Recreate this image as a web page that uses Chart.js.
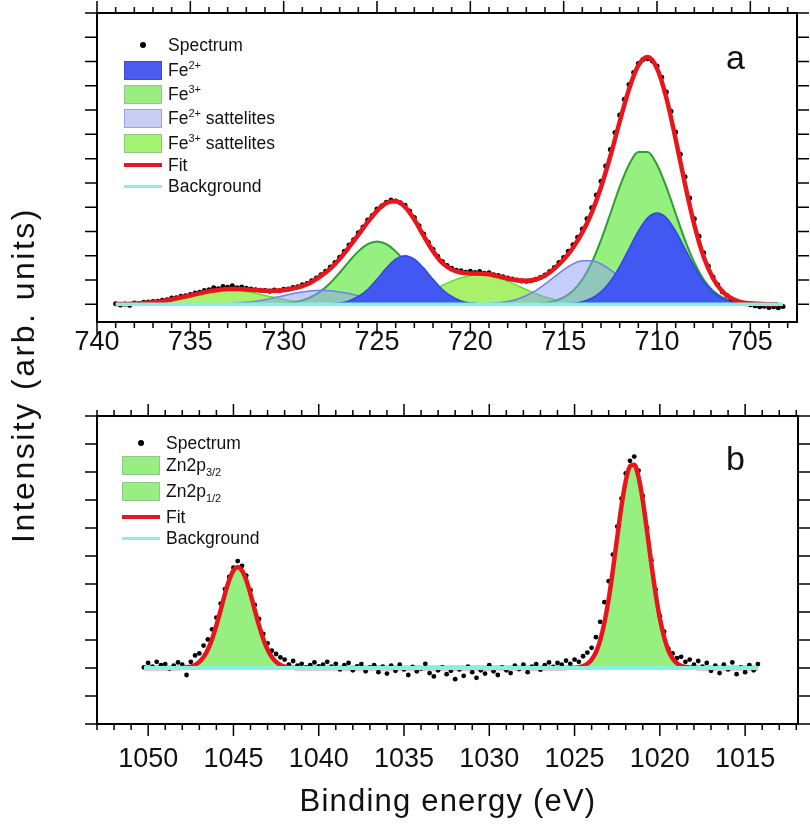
<!DOCTYPE html>
<html>
<head>
<meta charset="utf-8">
<script src="https://cdn.jsdelivr.net/npm/chart.js@4.4.0/dist/chart.umd.min.js"></script>
<style>
  body { margin: 0; background: #fff; font-family: "Liberation Sans", Arial, sans-serif; color: #111; }
  #page { position: relative; width: 810px; height: 824px; overflow: hidden; }
  canvas { position: absolute; left: 0; }
  .legend { position: absolute; font-size: 17.5px; }
  .row { position: absolute; left: 0; height: 22px; line-height: 22px; white-space: nowrap; }
  .txt { position: absolute; left: 44px; top: 0; }
  .box { position: absolute; left: 0; top: 2px; width: 38px; height: 19px; box-sizing: border-box; border: 1px solid #999; }
  .line { position: absolute; left: 0; width: 38px; }
  .dot { position: absolute; left: 16px; top: 8px; width: 6px; height: 6px; border-radius: 50%; background: #000; }
  sup, sub { font-size: 11px; line-height: 0; }
  .panel { position: absolute; font-size: 34px; line-height: 1; }
  .title { position: absolute; white-space: nowrap; line-height: 1; }
</style>
</head>
<body>
<div id="page">
  <canvas id="chartA" width="810" height="372" style="top:0"></canvas>
  <canvas id="chartB" width="810" height="444" style="top:380px"></canvas>

  <div class="legend" style="left:124px;top:0">
    <div class="row" style="top:34px"><span class="dot"></span><span class="txt">Spectrum</span></div>
    <div class="row" style="top:58.5px"><span class="box" style="background:#4A5CF0;border-color:#3A4ACB"></span><span class="txt">Fe<sup>2+</sup></span></div>
    <div class="row" style="top:83px"><span class="box" style="background:#98EE80;border-color:#8CC98A"></span><span class="txt">Fe<sup>3+</sup></span></div>
    <div class="row" style="top:107px"><span class="box" style="background:#C9CEF7;border-color:#9AA3D9"></span><span class="txt">Fe<sup>2+</sup> sattelites</span></div>
    <div class="row" style="top:131.5px"><span class="box" style="background:#A3F272;border-color:#8DCB84"></span><span class="txt">Fe<sup>3+</sup> sattelites</span></div>
    <div class="row" style="top:153.5px"><span class="line" style="top:9px;height:4px;background:#E8161C"></span><span class="txt">Fit</span></div>
    <div class="row" style="top:175px"><span class="line" style="top:10px;height:3px;background:#8AF0E0"></span><span class="txt">Background</span></div>
  </div>

  <div class="legend" style="left:122px;top:0">
    <div class="row" style="top:432px"><span class="dot"></span><span class="txt">Spectrum</span></div>
    <div class="row" style="top:454px"><span class="box" style="background:#98EE80;border-color:#8CC98A"></span><span class="txt">Zn2p<sub>3/2</sub></span></div>
    <div class="row" style="top:480px"><span class="box" style="background:#98EE80;border-color:#8CC98A"></span><span class="txt">Zn2p<sub>1/2</sub></span></div>
    <div class="row" style="top:506px"><span class="line" style="top:9px;height:4px;background:#E8161C"></span><span class="txt">Fit</span></div>
    <div class="row" style="top:527px"><span class="line" style="top:10px;height:3px;background:#8AF0E0"></span><span class="txt">Background</span></div>
  </div>

  <div class="panel" style="left:726px;top:40px">a</div>
  <div class="panel" style="left:726px;top:441px">b</div>

  <div class="title" style="left:23px;top:375px;font-size:32px;letter-spacing:2.5px;transform:translate(-50%,-50%) rotate(-90deg)">Intensity (arb. units)</div>
  <div class="title" style="left:448px;top:800px;font-size:31px;letter-spacing:1.2px;transform:translate(-50%,-50%)">Binding energy (eV)</div>
</div>

<script>
// ---------- panel a : Fe 2p ----------
const xTicksA = [740, 735, 730, 725, 720, 715, 710, 705]
const yTicksA = [0, 1, 2, 3, 4, 5, 6, 7, 8, 9, 10, 11, 12]

// measured spectrum, 0.25 eV steps
const energyA = [
  739.00, 738.75, 738.50, 738.25, 738.00, 737.75, 737.50, 737.25,
  737.00, 736.75, 736.50, 736.25, 736.00, 735.75, 735.50, 735.25,
  735.00, 734.75, 734.50, 734.25, 734.00, 733.75, 733.50, 733.25,
  733.00, 732.75, 732.50, 732.25, 732.00, 731.75, 731.50, 731.25,
  731.00, 730.75, 730.50, 730.25, 730.00, 729.75, 729.50, 729.25,
  729.00, 728.75, 728.50, 728.25, 728.00, 727.75, 727.50, 727.25,
  727.00, 726.75, 726.50, 726.25, 726.00, 725.75, 725.50, 725.25,
  725.00, 724.75, 724.50, 724.25, 724.00, 723.75, 723.50, 723.25,
  723.00, 722.75, 722.50, 722.25, 722.00, 721.75, 721.50, 721.25,
  721.00, 720.75, 720.50, 720.25, 720.00, 719.75, 719.50, 719.25,
  719.00, 718.75, 718.50, 718.25, 718.00, 717.75, 717.50, 717.25,
  717.00, 716.75, 716.50, 716.25, 716.00, 715.75, 715.50, 715.25,
  715.00, 714.75, 714.50, 714.25, 714.00, 713.75, 713.50, 713.25,
  713.00, 712.75, 712.50, 712.25, 712.00, 711.75, 711.50, 711.25,
  711.00, 710.75, 710.50, 710.25, 710.00, 709.75, 709.50, 709.25,
  709.00, 708.75, 708.50, 708.25, 708.00, 707.75, 707.50, 707.25,
  707.00, 706.75, 706.50, 706.25, 706.00, 705.75, 705.50, 705.25,
  705.00, 704.75, 704.50, 704.25, 704.00, 703.75, 703.50, 703.25
]
const spectrumA = [
  0.02, -0.03, 0.01, -0.04, 0.05, 0.02, 0.08, 0.09,
  0.11, 0.12, 0.17, 0.19, 0.26, 0.27, 0.33, 0.35,
  0.40, 0.46, 0.50, 0.57, 0.60, 0.68, 0.64, 0.73,
  0.70, 0.76, 0.68, 0.71, 0.66, 0.63, 0.60, 0.58,
  0.57, 0.54, 0.59, 0.56, 0.62, 0.63, 0.69, 0.72,
  0.80, 0.86, 0.97, 1.08, 1.22, 1.36, 1.54, 1.72,
  1.94, 2.18, 2.44, 2.66, 2.95, 3.18, 3.47, 3.66,
  3.93, 4.05, 4.20, 4.30, 4.26, 4.18, 4.08, 3.84,
  3.58, 3.24, 2.90, 2.56, 2.27, 1.98, 1.76, 1.60,
  1.48, 1.40, 1.38, 1.32, 1.36, 1.31, 1.35, 1.28,
  1.30, 1.22, 1.19, 1.13, 1.08, 1.04, 1.00, 0.96,
  0.95, 0.98, 1.03, 1.10, 1.21, 1.35, 1.52, 1.72,
  1.93, 2.18, 2.45, 2.76, 3.10, 3.52, 3.98, 4.50,
  5.07, 5.70, 6.38, 7.08, 7.80, 8.45, 9.05, 9.55,
  9.92, 10.08, 10.12, 10.02, 9.82, 9.35, 8.75, 7.95,
  7.10, 6.18, 5.25, 4.38, 3.52, 2.80, 2.12, 1.58,
  1.12, 0.80, 0.52, 0.36, 0.22, 0.13, 0.06, 0.02,
  -0.02, -0.06, -0.10, -0.08, -0.13, -0.10, -0.14, -0.09
]

// fitted components, 0.5 eV steps
const gridA = [
  739, 738.5, 738, 737.5, 737, 736.5, 736, 735.5,
  735, 734.5, 734, 733.5, 733, 732.5, 732, 731.5,
  731, 730.5, 730, 729.5, 729, 728.5, 728, 727.5,
  727, 726.5, 726, 725.5, 725, 724.5, 724, 723.5,
  723, 722.5, 722, 721.5, 721, 720.5, 720, 719.5,
  719, 718.5, 718, 717.5, 717, 716.5, 716, 715.5,
  715, 714.5, 714, 713.5, 713, 712.5, 712, 711.5,
  711, 710.5, 710, 709.5, 709, 708.5, 708, 707.5,
  707, 706.5, 706, 705.5, 705, 704.5, 704, 703.5
]
const fe2A = [
  0, 0, 0, 0, 0, 0, 0, 0,
  0, 0, 0, 0, 0, 0, 0, 0,
  0, 0, 0, 0, 0, 0, 0.01, 0.02,
  0.05, 0.14, 0.32, 0.61, 1.03, 1.49, 1.86, 2.00,
  1.86, 1.49, 1.03, 0.61, 0.32, 0.14, 0.05, 0.02,
  0.01, 0, 0, 0, 0, 0, 0, 0.01,
  0.02, 0.04, 0.11, 0.25, 0.51, 0.94, 1.55, 2.28,
  3.01, 3.56, 3.76, 3.56, 3.01, 2.28, 1.55, 0.94,
  0.51, 0.25, 0.11, 0.04, 0.02, 0.01, 0, 0
]
const fe3A = [
  0, 0, 0, 0, 0, 0, 0, 0,
  0, 0, 0, 0, 0, 0, 0, 0,
  0.01, 0.01, 0.03, 0.08, 0.16, 0.31, 0.55, 0.88,
  1.30, 1.76, 2.18, 2.48, 2.59, 2.48, 2.18, 1.76,
  1.30, 0.88, 0.55, 0.31, 0.16, 0.08, 0.03, 0.01,
  0.01, 0, 0, 0, 0.01, 0.02, 0.05, 0.13,
  0.28, 0.56, 1.02, 1.71, 2.64, 3.73, 4.84, 5.75,
  6.27, 6.27, 5.75, 4.84, 3.73, 2.64, 1.71, 1.02,
  0.56, 0.28, 0.13, 0.05, 0.02, 0.01, 0, 0
]
const fe2SatA = [
  0, 0, 0, 0, 0, 0, 0, 0,
  0, 0, 0.01, 0.01, 0.03, 0.05, 0.08, 0.13,
  0.19, 0.27, 0.35, 0.44, 0.51, 0.56, 0.58, 0.56,
  0.51, 0.44, 0.35, 0.27, 0.19, 0.13, 0.08, 0.05,
  0.03, 0.01, 0.01, 0, 0, 0, 0, 0.01,
  0.03, 0.06, 0.11, 0.21, 0.36, 0.56, 0.83, 1.13,
  1.42, 1.66, 1.79, 1.79, 1.66, 1.42, 1.13, 0.83,
  0.56, 0.36, 0.21, 0.11, 0.06, 0.03, 0.01, 0,
  0, 0, 0, 0, 0, 0, 0, 0
]
const fe3SatA = [
  0.01, 0.01, 0.03, 0.05, 0.08, 0.13, 0.20, 0.28,
  0.36, 0.45, 0.53, 0.58, 0.60, 0.58, 0.53, 0.45,
  0.36, 0.28, 0.20, 0.13, 0.08, 0.05, 0.03, 0.01,
  0.01, 0.01, 0.01, 0.02, 0.04, 0.07, 0.12, 0.20,
  0.30, 0.44, 0.60, 0.78, 0.95, 1.09, 1.19, 1.22,
  1.19, 1.09, 0.95, 0.78, 0.60, 0.44, 0.30, 0.20,
  0.12, 0.07, 0.04, 0.02, 0.01, 0.01, 0, 0,
  0, 0, 0, 0, 0, 0, 0, 0,
  0, 0, 0, 0, 0, 0, 0, 0
]
const fitA = [
  0.01, 0.01, 0.03, 0.05, 0.08, 0.13, 0.20, 0.28,
  0.36, 0.45, 0.54, 0.59, 0.63, 0.63, 0.61, 0.58,
  0.56, 0.56, 0.58, 0.65, 0.75, 0.92, 1.17, 1.47,
  1.87, 2.35, 2.86, 3.38, 3.85, 4.17, 4.24, 4.01,
  3.49, 2.82, 2.19, 1.70, 1.43, 1.31, 1.27, 1.26,
  1.24, 1.15, 1.06, 0.99, 0.97, 1.02, 1.18, 1.47,
  1.84, 2.33, 2.96, 3.77, 4.82, 6.10, 7.52, 8.86,
  9.84, 10.19, 9.72, 8.51, 6.80, 4.95, 3.27, 1.96,
  1.07, 0.53, 0.24, 0.09, 0.04, 0.02, 0, 0
]
const bgEnergyA = [739, 703.25]
const bgA = [0, 0]

// ---------- panel b : Zn 2p ----------
const xTicksB = [1050, 1045, 1040, 1035, 1030, 1025, 1020, 1015]
const yTicksB = [-2, -1, 0, 1, 2, 3, 4, 5, 6, 7, 8, 9]

const energyB = [
  1050.25, 1050.00, 1049.75, 1049.50, 1049.25, 1049.00, 1048.75, 1048.50,
  1048.25, 1048.00, 1047.75, 1047.50, 1047.25, 1047.00, 1046.75, 1046.50,
  1046.25, 1046.00, 1045.75, 1045.50, 1045.25, 1045.00, 1044.75, 1044.50,
  1044.25, 1044.00, 1043.75, 1043.50, 1043.25, 1043.00, 1042.75, 1042.50,
  1042.25, 1042.00, 1041.75, 1041.50, 1041.25, 1041.00, 1040.75, 1040.50,
  1040.25, 1040.00, 1039.75, 1039.50, 1039.25, 1039.00, 1038.75, 1038.50,
  1038.25, 1038.00, 1037.75, 1037.50, 1037.25, 1037.00, 1036.75, 1036.50,
  1036.25, 1036.00, 1035.75, 1035.50, 1035.25, 1035.00, 1034.75, 1034.50,
  1034.25, 1034.00, 1033.75, 1033.50, 1033.25, 1033.00, 1032.75, 1032.50,
  1032.25, 1032.00, 1031.75, 1031.50, 1031.25, 1031.00, 1030.75, 1030.50,
  1030.25, 1030.00, 1029.75, 1029.50, 1029.25, 1029.00, 1028.75, 1028.50,
  1028.25, 1028.00, 1027.75, 1027.50, 1027.25, 1027.00, 1026.75, 1026.50,
  1026.25, 1026.00, 1025.75, 1025.50, 1025.25, 1025.00, 1024.75, 1024.50,
  1024.25, 1024.00, 1023.75, 1023.50, 1023.25, 1023.00, 1022.75, 1022.50,
  1022.25, 1022.00, 1021.75, 1021.50, 1021.25, 1021.00, 1020.75, 1020.50,
  1020.25, 1020.00, 1019.75, 1019.50, 1019.25, 1019.00, 1018.75, 1018.50,
  1018.25, 1018.00, 1017.75, 1017.50, 1017.25, 1017.00, 1016.75, 1016.50,
  1016.25, 1016.00, 1015.75, 1015.50, 1015.25, 1015.00, 1014.75, 1014.50,
  1014.25
]
const spectrumB = [
  0.02, 0.18, 0.05, 0.22, 0.10, 0.14, -0.02, 0.08,
  0.20, 0.12, -0.25, 0.22, 0.45, 0.52, 0.80, 1.02,
  1.38, 1.80, 2.30, 2.82, 3.25, 3.58, 3.82, 3.65,
  3.30, 2.78, 2.25, 1.75, 1.22, 0.88, 0.62, 0.50,
  0.38, 0.30, 0.12, 0.25, 0.08, 0.15, 0.02, 0.10,
  0.20, 0.06, 0.12, 0.22, 0.05, 0.15, -0.05, 0.10,
  0.18, -0.08, 0.06, 0.14, -0.12, 0.02, 0.10, -0.15,
  0.05, -0.20, 0.08, -0.10, 0.12, -0.05, -0.25, 0.04,
  -0.12, -0.02, 0.15, -0.18, -0.30, -0.08, 0.02, -0.22,
  -0.10, -0.40, -0.05, -0.28, 0.05, -0.15, -0.35, -0.08,
  -0.20, 0.10, -0.12, -0.25, 0.02, -0.08, -0.18, 0.08,
  -0.04, 0.12, -0.15, 0.05, 0.14, -0.06, 0.10, 0.20,
  0.04, 0.18, 0.12, 0.26, 0.15, 0.30, 0.22, 0.42,
  0.55, 0.72, 1.10, 1.65, 2.35, 3.10, 4.05, 5.05,
  6.05, 6.95, 7.40, 7.55, 7.05, 6.15, 5.00, 3.85,
  2.80, 1.85, 1.30, 0.68, 0.52, 0.35, 0.40, 0.22,
  0.30, 0.12, 0.25, 0.05, 0.18, -0.10, 0.08, -0.18,
  0.12, -0.05, 0.20, -0.22, 0.02, -0.15, 0.10, -0.08,
  0.14
]

const zn12Energy = [
  1048.5, 1048.25, 1048.0, 1047.75, 1047.5, 1047.25, 1047.0, 1046.75,
  1046.5, 1046.25, 1046.0, 1045.75, 1045.5, 1045.25, 1045.0, 1044.75,
  1044.5, 1044.25, 1044.0, 1043.75, 1043.5, 1043.25, 1043.0, 1042.75,
  1042.5, 1042.25, 1042.0, 1041.75, 1041.5, 1041.25, 1041.0
]
const zn12 = [
  0, 0, 0.01, 0.03, 0.05, 0.11, 0.22, 0.39,
  0.66, 1.04, 1.52, 2.07, 2.64, 3.14, 3.48, 3.60,
  3.48, 3.14, 2.64, 2.07, 1.52, 1.04, 0.66, 0.39,
  0.22, 0.11, 0.05, 0.03, 0.01, 0, 0
]
const zn32Energy = [
  1025.5, 1025.25, 1025.0, 1024.75, 1024.5, 1024.25, 1024.0, 1023.75,
  1023.5, 1023.25, 1023.0, 1022.75, 1022.5, 1022.25, 1022.0, 1021.75,
  1021.5, 1021.25, 1021.0, 1020.75, 1020.5, 1020.25, 1020.0, 1019.75,
  1019.5, 1019.25, 1019.0, 1018.75, 1018.5, 1018.25, 1018.0, 1017.75
]
const zn32 = [
  0, 0.01, 0.01, 0.03, 0.07, 0.15, 0.30, 0.56,
  0.99, 1.62, 2.46, 3.51, 4.66, 5.78, 6.68, 7.21,
  7.26, 6.82, 5.98, 4.89, 3.73, 2.66, 1.77, 1.10,
  0.63, 0.34, 0.17, 0.08, 0.04, 0.02, 0.01, 0
]
const fitEnergyB = [
  1050.25, 1049.0,
  1048.5, 1048.25, 1048.0, 1047.75, 1047.5, 1047.25, 1047.0, 1046.75,
  1046.5, 1046.25, 1046.0, 1045.75, 1045.5, 1045.25, 1045.0, 1044.75,
  1044.5, 1044.25, 1044.0, 1043.75, 1043.5, 1043.25, 1043.0, 1042.75,
  1042.5, 1042.25, 1042.0, 1041.75, 1041.5, 1041.25, 1041.0,
  1038.0, 1034.0, 1030.0, 1027.0,
  1025.5, 1025.25, 1025.0, 1024.75, 1024.5, 1024.25, 1024.0, 1023.75,
  1023.5, 1023.25, 1023.0, 1022.75, 1022.5, 1022.25, 1022.0, 1021.75,
  1021.5, 1021.25, 1021.0, 1020.75, 1020.5, 1020.25, 1020.0, 1019.75,
  1019.5, 1019.25, 1019.0, 1018.75, 1018.5, 1018.25, 1018.0, 1017.75,
  1016.0, 1014.25
]
const fitB = [
  0, 0,
  0, 0, 0.01, 0.03, 0.05, 0.11, 0.22, 0.39,
  0.66, 1.04, 1.52, 2.07, 2.64, 3.14, 3.48, 3.60,
  3.48, 3.14, 2.64, 2.07, 1.52, 1.04, 0.66, 0.39,
  0.22, 0.11, 0.05, 0.03, 0.01, 0, 0,
  0, 0, 0, 0,
  0, 0.01, 0.01, 0.03, 0.07, 0.15, 0.30, 0.56,
  0.99, 1.62, 2.46, 3.51, 4.66, 5.78, 6.68, 7.21,
  7.26, 6.82, 5.98, 4.89, 3.73, 2.66, 1.77, 1.10,
  0.63, 0.34, 0.17, 0.08, 0.04, 0.02, 0.01, 0,
  0, 0
]
const bgEnergyB = [1050.25, 1014.25]
const bgB = [0, 0]

// ---------- drawing ----------
Chart.defaults.font.family = '"Liberation Sans", Arial, sans-serif'
Chart.defaults.color = '#111'

const pts = (xs, ys) => xs.map((x, i) => ({ x: x, y: ys[i] }))

// box frame + outward ticks on all four sides (minor every 1 eV)
const frameTicks = {
  id: 'frameTicks',
  afterDatasetsDraw(chart, args, opts) {
    const ctx = chart.ctx
    const a = chart.chartArea
    const x = chart.scales.x
    const y = chart.scales.y
    ctx.save()
    ctx.strokeStyle = '#000'
    ctx.lineWidth = 1.5
    ctx.beginPath()
    for (let v = Math.ceil(x.min); v <= x.max; v++) {
      const px = x.getPixelForValue(v)
      const len = v % 5 === 0 ? 12 : 6
      ctx.moveTo(px, a.top); ctx.lineTo(px, a.top - len)
      ctx.moveTo(px, a.bottom); ctx.lineTo(px, a.bottom + len)
    }
    opts.yTicks.forEach(v => {
      const py = y.getPixelForValue(v)
      ctx.moveTo(a.left, py); ctx.lineTo(a.left - 12, py)
      ctx.moveTo(a.right, py); ctx.lineTo(a.right + 12, py)
    })
    ctx.stroke()
    ctx.lineWidth = 2
    ctx.strokeRect(a.left, a.top, a.right - a.left, a.bottom - a.top)
    ctx.restore()
  }
}

function xAxis(min, max, ticks, axisHeight, pad) {
  return {
    type: 'linear', reverse: true, min: min, max: max,
    grid: { display: false, drawTicks: false },
    border: { display: false },
    afterBuildTicks: axis => { axis.ticks = ticks.map(v => ({ value: v })) },
    afterFit: scale => { scale.height = axisHeight },
    ticks: { autoSkip: false, maxRotation: 0, padding: pad, font: { size: 27 }, color: '#111',
      callback: v => String(v) }
  }
}

const lineDefaults = { pointRadius: 0, cubicInterpolationMode: 'monotone', fill: false }

new Chart(document.getElementById('chartA'), {
  type: 'line',
  data: {
    datasets: [
      { ...lineDefaults, label: 'Background', data: pts(bgEnergyA, bgA), borderColor: '#88F0E0', borderWidth: 3.5, order: 0 },
      { ...lineDefaults, label: 'Fit', data: pts(gridA, fitA), borderColor: '#E8161C', borderWidth: 4.5, order: 1 },
      { label: 'Spectrum', data: pts(energyA, spectrumA), showLine: false, pointRadius: 2.5,
        pointBackgroundColor: '#000', pointBorderWidth: 0, order: 2 },
      { ...lineDefaults, label: 'Fe2+', data: pts(gridA, fe2A), fill: 'origin',
        backgroundColor: '#4159F2', borderColor: '#2F46E2', borderWidth: 1.5, order: 3 },
      { ...lineDefaults, label: 'Fe2+ sattelites', data: pts(gridA, fe2SatA), fill: 'origin',
        backgroundColor: 'rgba(140,158,245,0.5)', borderColor: '#6F80EA', borderWidth: 1.5, order: 4 },
      { ...lineDefaults, label: 'Fe3+', data: pts(gridA, fe3A), fill: 'origin',
        backgroundColor: '#96F07F', borderColor: '#2E9D30', borderWidth: 2, order: 5 },
      { ...lineDefaults, label: 'Fe3+ sattelites', data: pts(gridA, fe3SatA), fill: 'origin',
        backgroundColor: 'rgba(160,240,90,0.9)', borderColor: '#5FE02A', borderWidth: 1.5, order: 6 }
    ]
  },
  options: {
    responsive: false, animation: false, devicePixelRatio: 1,
    layout: { padding: { left: 97, right: 13, top: 13, bottom: 0 } },
    plugins: { legend: { display: false }, tooltip: { enabled: false }, frameTicks: { yTicks: yTicksA } },
    scales: {
      x: xAxis(702.5, 740, xTicksA, 50, 4),
      y: { type: 'linear', min: -0.73, max: 12, display: false }
    }
  },
  plugins: [frameTicks]
})

new Chart(document.getElementById('chartB'), {
  type: 'line',
  data: {
    datasets: [
      { ...lineDefaults, label: 'Background', data: pts(bgEnergyB, bgB), borderColor: '#88F0E0', borderWidth: 4, order: 0 },
      { ...lineDefaults, label: 'Fit', data: pts(fitEnergyB, fitB), borderColor: '#E8161C', borderWidth: 4.5, order: 1 },
      { label: 'Spectrum', data: pts(energyB, spectrumB), showLine: false, pointRadius: 2.4,
        pointBackgroundColor: '#000', pointBorderWidth: 0, order: 2 },
      { ...lineDefaults, label: 'Zn2p3/2', data: pts(zn32Energy, zn32), fill: 'origin',
        backgroundColor: '#96F07F', borderColor: '#96F07F', borderWidth: 1, order: 3 },
      { ...lineDefaults, label: 'Zn2p1/2', data: pts(zn12Energy, zn12), fill: 'origin',
        backgroundColor: '#96F07F', borderColor: '#96F07F', borderWidth: 1, order: 4 }
    ]
  },
  options: {
    responsive: false, animation: false, devicePixelRatio: 1,
    layout: { padding: { left: 97, right: 12, top: 36, bottom: 0 } },
    plugins: { legend: { display: false }, tooltip: { enabled: false }, frameTicks: { yTicks: yTicksB } },
    scales: {
      x: xAxis(1011.9, 1053, xTicksB, 100, 19),
      y: { type: 'linear', min: -2, max: 9, display: false }
    }
  },
  plugins: [frameTicks]
})
</script>
</body>
</html>
